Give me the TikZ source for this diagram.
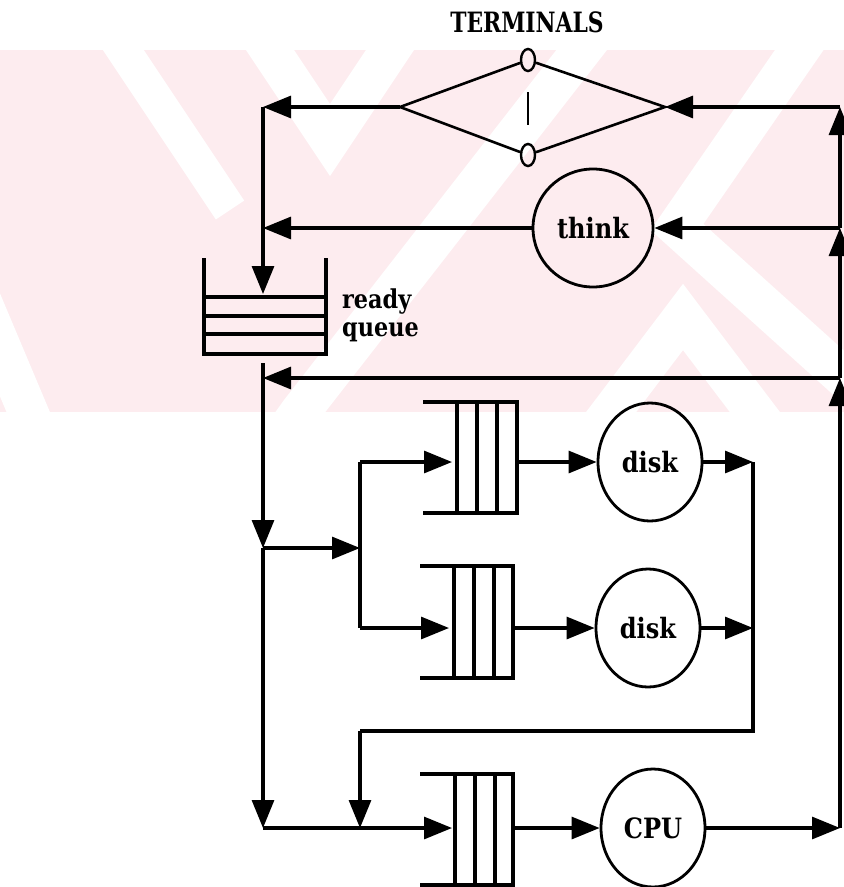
\documentclass[tikz,border=0pt]{standalone}
\usepackage{fontspec}
\setmainfont{DejaVu Serif}
\usetikzlibrary{arrows.meta,shapes.geometric}
\definecolor{wm}{RGB}{253,236,239}
\newcommand\mylab[1]{\scalebox{0.86}[1]{#1}}
\tikzset{
  ln/.style={line width=3.1pt},
  arr/.style={ln,-{Triangle[length=28pt,width=22pt]}},
  srv/.style={ellipse,draw,line width=2.8pt,inner sep=0pt,font=\bfseries\fontsize{28}{28}\selectfont},
  term/.style={ellipse,draw,line width=2.4pt,minimum width=14pt,minimum height=22pt,inner sep=0pt},
  lbl/.style={inner sep=0pt,font=\bfseries\fontsize{26}{26}\selectfont}
}
\begin{document}
\begin{tikzpicture}[x=1pt,y=-1pt]
\useasboundingbox (0,0) rectangle (844,887);
% watermark
\begin{scope}
\clip (0,50) rectangle (844,412);
\fill[wm] (0,50) rectangle (844,412);
\draw[white,line width=40pt] (250,20) -- (330,140) -- (410,20);
\draw[white,line width=40pt] (605,20) -- (300,412) -- (280,440);
\draw[white,line width=40pt] (820,20) -- (677,227) -- (880,410);
\draw[white,line width=40pt] (590,440) -- (683,317) -- (776,440);
\draw[white,line width=34pt] (110,30) -- (230,210);
\draw[white,line width=40pt] (-40,250) -- (40,440);
\end{scope}
% title
\node[lbl] (title) at (527,22) {\scalebox{0.78}[1]{\fontsize{28}{28}\selectfont TERMINALS}};
% terminals
\coordinate (dl) at (400,107);
\coordinate (dr) at (665,107);
\node[term] (tt) at (528,60) {};
\node[term] (tb) at (528,155) {};
\draw[line width=2.6pt] (dl) -- (tt) -- (dr) -- (tb) -- (dl);
\draw[line width=2.4pt] (528,92) -- (528,125);
% think
\node[srv,minimum width=120pt,minimum height=118pt] (think) at (593,228) {\mylab{think}};
% servers
\node[srv,minimum width=104pt,minimum height=118pt] (disk1) at (650,462) {\mylab{disk}};
\node[srv,minimum width=104pt,minimum height=118pt] (disk2) at (648,628) {\mylab{disk}};
\node[srv,minimum width=104pt,minimum height=118pt] (cpu) at (653,828) {\mylab{CPU}};
% ready queue
\draw[ln] (204,258) -- (204,354) -- (326,354) -- (326,258);
\draw[ln] (204,297) -- (326,297) (204,316) -- (326,316) (204,334) -- (326,334);
\node[lbl,anchor=north west] (rq1) at (342,289) {\mylab{ready}};
\node[lbl,anchor=north west] (rq2) at (342,322) {\mylab{queue}};
% device queues
\draw[ln] (423,402) -- (517,402) -- (517,513) -- (423,513);
\draw[ln] (457,402) -- (457,513) (477,402) -- (477,513) (497,402) -- (497,513);
\draw[ln] (420,566) -- (513,566) -- (513,678) -- (420,678);
\draw[ln] (454,566) -- (454,678) (474,566) -- (474,678) (494,566) -- (494,678);
\draw[ln] (420,774) -- (513,774) -- (513,885) -- (420,885);
\draw[ln] (455,774) -- (455,885) (475,774) -- (475,885) (495,774) -- (495,885);
% coordinates
\coordinate (rtop) at (840,107);
\coordinate (rthink) at (840,228);
\coordinate (rret) at (840,378);
\coordinate (rcpu) at (840,828);
\coordinate (ltop) at (263,107);
\coordinate (lthink) at (263,228);
\coordinate (rqin) at (263,294);
\coordinate (rqout) at (263,363);
\coordinate (lret) at (263,378);
\coordinate (lsplit) at (263,548);
\coordinate (lbot) at (263,828);
\coordinate (fork) at (360,548);
\coordinate (f1) at (360,462);
\coordinate (f2) at (360,628);
\coordinate (q1in) at (452,462);
\coordinate (q2in) at (449,628);
\coordinate (q1out) at (517,462);
\coordinate (q2out) at (513,628);
\coordinate (d1o) at (753,462);
\coordinate (d2o) at (753,628);
\coordinate (lp) at (753,731);
\coordinate (lp2) at (360,731);
\coordinate (lp3) at (360,828);
\coordinate (q3in) at (452,828);
\coordinate (q3out) at (513,828);
% right return line
\draw[arr] (rcpu) -- (rret);
\draw[arr] (rret) -- (rthink);
\draw[arr] (rthink) -- (rtop);
\draw[arr] (rtop) -- (dr);
\draw[arr] (rthink) -- (think);
\draw[arr] (rret) -- (lret);
% into ready queue
\draw[arr] (dl) -- (ltop);
\draw[arr] (think) -- (lthink);
\draw[arr] (ltop) -- (rqin);
% out of ready queue
\draw[arr] (rqout) -- (lsplit);
\draw[arr] (lsplit) -- (lbot);
\draw[arr] (lsplit) -- (fork);
\draw[ln] (f1) -- (f2);
\draw[arr] (f1) -- (q1in);
\draw[arr] (f2) -- (q2in);
\draw[arr] (q1out) -- (disk1);
\draw[arr] (q2out) -- (disk2);
\draw[arr] (disk1) -- (d1o);
\draw[arr] (disk2) -- (d2o);
\draw[ln] (d1o) -- (lp) -- (lp2);
\draw[arr] (lp2) -- (lp3);
\draw[arr] (lbot) -- (q3in);
\draw[arr] (q3out) -- (cpu);
\draw[arr] (cpu) -- (rcpu);
\end{tikzpicture}
\end{document}
